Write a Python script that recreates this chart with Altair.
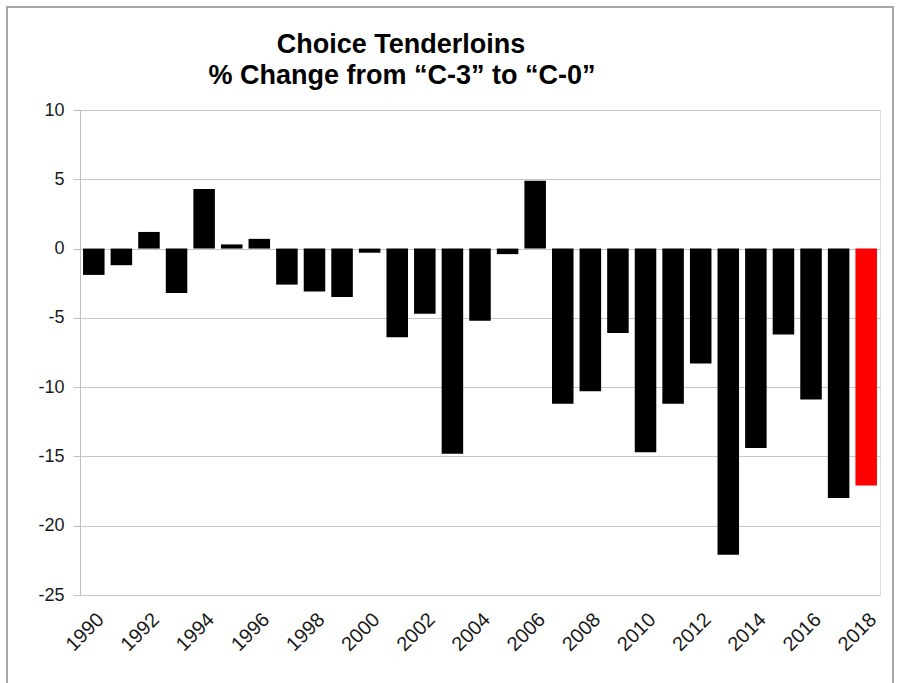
import altair as alt
import pandas as pd

years = list(range(1990, 2019))
pct_change = [
    -1.9, -1.2, 1.2, -3.2, 4.3, 0.3, 0.7, -2.6, -3.1, -3.5,
    -0.3, -6.4, -4.7, -14.8, -5.2, -0.4, 4.9, -11.2, -10.3, -6.1,
    -14.7, -11.2, -8.3, -22.1, -14.4, -6.2, -10.9, -18.0, -17.1,
]
bar_colors = ["#000000"] * 28 + ["#ff0000"]
x_tick_years = list(range(1990, 2019, 2))
y_ticks = [-25, -20, -15, -10, -5, 0, 5, 10]
title_line1 = "Choice Tenderloins"
title_line2 = "% Change from \u201cC-3\u201d to \u201cC-0\u201d"

df = pd.DataFrame({"Year": years, "Change": pct_change, "Color": bar_colors})
one = pd.DataFrame({"a": [0]})

bars = alt.Chart(df).mark_bar().encode(
    x=alt.X(
        "Year:O",
        scale=alt.Scale(paddingInner=0.22, paddingOuter=0.11),
        axis=alt.Axis(
            title=None,
            values=x_tick_years,
            labelAngle=-45,
            labelAlign="right",
            labelBaseline="top",
            labelPadding=14,
            labelFont="Liberation Sans",
            labelFontSize=20,
            labelColor="#1a1a1a",
            domain=False,
            ticks=False,
            grid=False,
        ),
    ),
    y=alt.Y(
        "Change:Q",
        scale=alt.Scale(domain=[-25, 10], nice=False, zero=True),
        axis=alt.Axis(
            title=None,
            values=y_ticks,
            labelExpr="'' + datum.value",
            tickSize=7,
            tickColor="#bfbfbf",
            domainColor="#bfbfbf",
            gridColor="#c6c6c6",
            labelPadding=9,
            labelFont="Liberation Sans",
            labelFontSize=18,
            labelColor="#1a1a1a",
        ),
    ),
    color=alt.Color("Color:N", scale=None, legend=None),
)

frame = alt.Chart(one).mark_rect(
    fill=None, stroke="#a6a6a6", strokeWidth=2, clip=False
).encode(
    x=alt.value(-73), x2=alt.value(813), y=alt.value(-103), y2=alt.value(600)
)

title_style = dict(
    font="Liberation Sans", fontSize=27, fontWeight="bold", color="#000000",
    align="center", baseline="alphabetic", clip=False,
)
t1 = alt.Chart(one).mark_text(text=title_line1, **title_style).encode(
    x=alt.value(321), y=alt.value(-57)
)
t2 = alt.Chart(one).mark_text(text=title_line2, **title_style).encode(
    x=alt.value(322), y=alt.value(-26)
)

chart = alt.layer(frame, bars, t1, t2).properties(
    width=800,
    height=485,
    padding={"left": 80, "top": 110, "right": 19, "bottom": 88},
    autosize=alt.AutoSizeParams(type="none"),
).configure_view(stroke=None).configure(background="white")

chart.save("out.html", embed_options={"renderer": "svg", "actions": False})
